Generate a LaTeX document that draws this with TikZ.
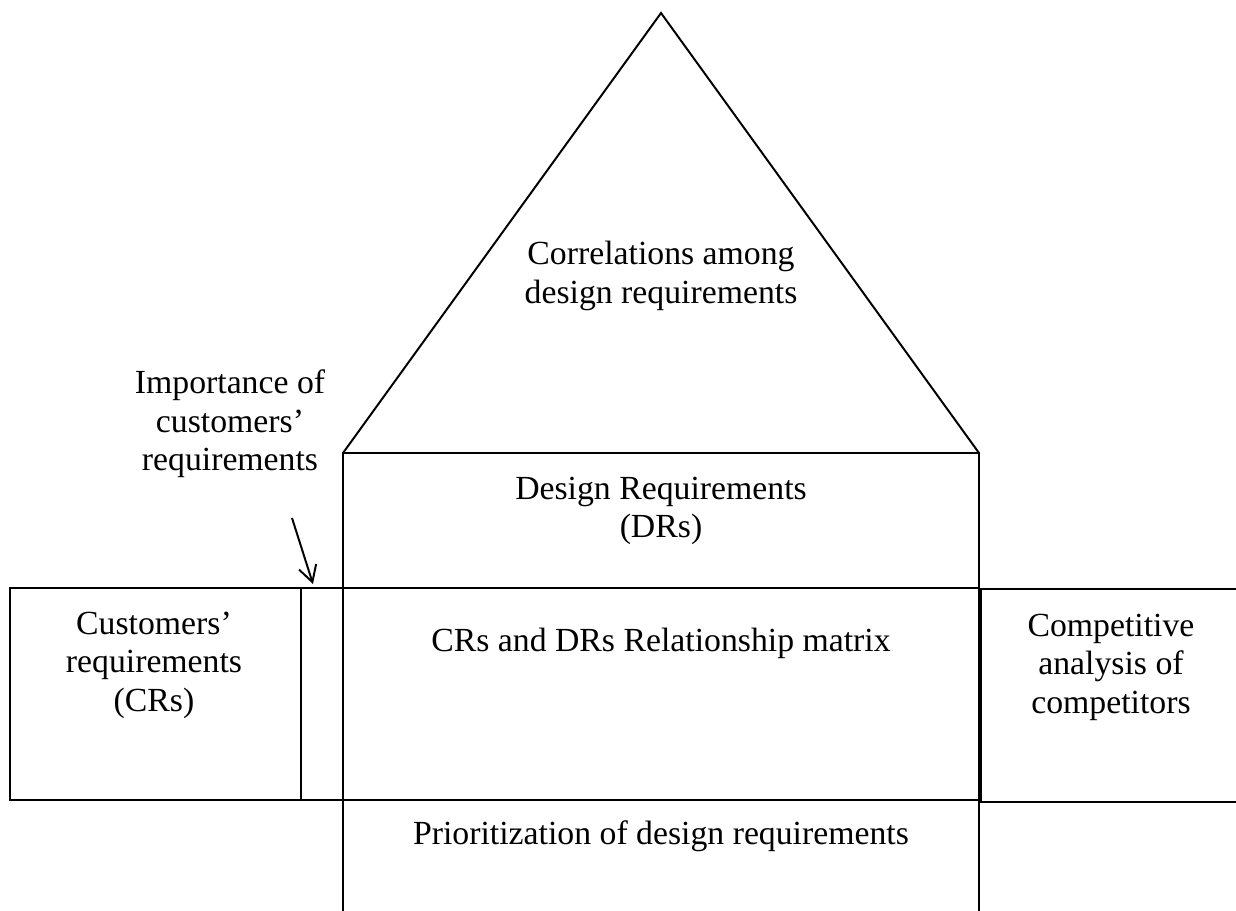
\documentclass[tikz,border=0pt]{standalone}
\usepackage{fontspec}
\setmainfont{Liberation Serif}
\usetikzlibrary{arrows.meta}
\tikzset{
  box/.style={line width=2pt},
  roof/.style={line width=1.4pt},
  lbl/.style={align=center, font=\fontsize{24}{27.4}\selectfont, inner sep=0pt},
}
\begin{document}
\begin{tikzpicture}[x=0.025cm,y=-0.025cm]
    \useasboundingbox (0,0) rectangle (1236,911);

    \coordinate (apex) at (661,13);
    \coordinate (roofl) at (343,453);
    \coordinate (roofr) at (979,453);
    \coordinate (imptail) at (292,518);
    \coordinate (imphead) at (313,584);

    % roof and house body
    \draw[roof] (roofl) -- (apex) -- (roofr);
    \draw[box] (343,453) rectangle (979,588);
    \draw[box] (343,588) rectangle (979,800);
    \draw[box] (10,588) rectangle (301,800);
    \draw[box] (301,588) rectangle (343,800);
    \draw[box] (1236,589) -- (981,589) -- (981,802) -- (1236,802);
    \draw[box] (343,800) -- (343,911) (979,800) -- (979,911);

    \node[lbl] (corr) at (661,276) {Correlations among\\design requirements};
    \node[lbl] (imp) at (230,424) {Importance of\\customers'\\requirements};
    \node[lbl] (dr) at (661,511) {Design Requirements\\(DRs)};
    \node[lbl] (rel) at (661,643) {CRs and DRs Relationship matrix};
    \node[lbl] (cr) at (154,665) {Customers'\\requirements\\(CRs)};
    \node[lbl] (comp) at (1111,667) {Competitive\\analysis of\\competitors};
    \node[lbl] (prio) at (661,836) {Prioritization of design requirements};

    \draw[roof,-{Straight Barb[length=4mm,width=4.5mm]}] (imptail) -- (imphead);
\end{tikzpicture}
\end{document}
